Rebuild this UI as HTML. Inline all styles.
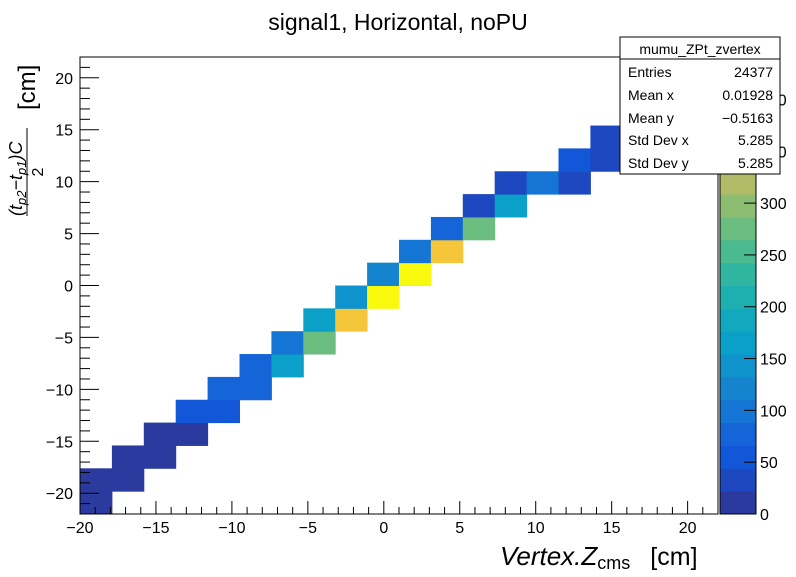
<!DOCTYPE html>
<html><head><meta charset="utf-8"><style>
body{margin:0;background:#fff;}
svg text{font-family:"Liberation Sans",sans-serif;}
</style></head><body>
<svg id="c" width="796" height="572" xmlns="http://www.w3.org/2000/svg">
<rect width="796" height="572" fill="#fff"/>
<text x="398" y="30" font-size="23" text-anchor="middle">signal1, Horizontal, noPU</text>
<g id="cells"></g>
<rect x="80" y="57" width="638" height="457" fill="none" stroke="#000" stroke-width="1"/>
<g id="axes"></g>
<g id="pal"></g>
<text x="500" y="565" font-size="26" font-style="italic">Vertex.Z<tspan font-style="normal" font-size="18" dy="4">cms</tspan><tspan font-style="normal" dy="-4" dx="20" font-size="25">[cm]</tspan></text>
<g transform="translate(25,286) rotate(-90)">
<text x="70" y="-3" font-size="18" font-style="italic">(t<tspan font-size="13" dy="4">p2</tspan><tspan dy="-4">−t</tspan><tspan font-size="13" dy="4">p1</tspan><tspan dy="-4">)C</tspan></text>
<line x1="70" y1="2" x2="158" y2="2" stroke="#000" stroke-width="1"/>
<text x="114" y="18" font-size="16" text-anchor="middle">2</text>
<text x="176" y="10" font-size="24">[cm]</text>
</g>
<g>
<rect x="620" y="37" width="160" height="137" fill="#fff" stroke="#000"/>
<line x1="620" y1="59" x2="780" y2="59" stroke="#000"/>
<text x="700" y="54" font-size="14" text-anchor="middle">mumu_ZPt_zvertex</text>
<text x="628" y="77" font-size="14">Entries</text><text x="773" y="77" font-size="14" text-anchor="end">24377</text>
<text x="628" y="100" font-size="14">Mean x</text><text x="773" y="100" font-size="14" text-anchor="end">0.01928</text>
<text x="628" y="123" font-size="14">Mean y</text><text x="773" y="123" font-size="14" text-anchor="end">−0.5163</text>
<text x="628" y="145" font-size="14">Std Dev x</text><text x="773" y="145" font-size="14" text-anchor="end">5.285</text>
<text x="628" y="168" font-size="14">Std Dev y</text><text x="773" y="168" font-size="14" text-anchor="end">5.285</text>
</g>
</svg>
<script>
const xBins=[0,0,1,1,2,2,3,3,4,4,5,5,6,6,7,7,8,8,9,9,10,10,11,11,12,12,13,13,14,15,15,16,16,17];
const yBins=[0,1,1,2,2,3,3,4,4,5,5,6,6,7,7,8,8,9,9,10,10,11,11,12,12,13,13,14,14,14,15,15,16,16];
const counts=[15,15,18,18,20,20,22,60,60,80,80,85,175,110,285,170,380,140,430,130,430,110,380,70,265,25,165,30,110,30,55,30,30,30];
const xTicks=[-20,-15,-10,-5,0,5,10,15,20];
const yTicks=[-20,-15,-10,-5,0,5,10,15,20];
const zTicks=[0,50,100,150,200,250,300,350,400];
const palette=["#2a3a9e","#1d48c0","#1257d8","#1565d8","#1575d4","#1484cf","#0f93cc","#0aa0c8","#12a8be","#1eb0b0","#30b6a0","#4cba90","#6bbd80","#8dbd72","#b0bc68","#d0b85c","#e8bb4a","#f5c53a","#f8dc24","#f9f90e"];
const X0=80,X1=718,Y0=514,Y1=57,xmin=-20,xmax=22,ymin=-22,ymax=22,zmax=441,nb=20;
const sx=v=>X0+(v-xmin)/(xmax-xmin)*(X1-X0);
const sy=v=>Y0-(v-ymin)/(ymax-ymin)*(Y0-Y1);
const NS="http://www.w3.org/2000/svg";
function mk(tag,at,parent){const e=document.createElementNS(NS,tag);for(const k in at)e.setAttribute(k,at[k]);parent.appendChild(e);return e;}
const bw=(xmax-xmin)/nb,bh=(ymax-ymin)/nb;
const cg=document.getElementById('cells');
counts.forEach((c,i)=>{
 const xa=xmin+xBins[i]*bw,ya=ymin+yBins[i]*bh;
 const ci=Math.min(19,Math.floor(c/zmax*20));
 const r=mk('rect',{x:sx(xa),y:sy(ya+bh),width:sx(xa+bw)-sx(xa)+0.5,height:sy(ya)-sy(ya+bh)+0.5,fill:palette[ci]},cg);
 
 
});
const ag=document.getElementById('axes');
for(let v=-20;v<=22;v++){const maj=v%5===0;mk('line',{x1:sx(v),x2:sx(v),y1:Y0,y2:Y0-(maj?13:7),stroke:'#000'},ag);}
for(let v=-22;v<=22;v++){const maj=v%5===0;mk('line',{x1:X0,x2:X0+(maj?19:10),y1:sy(v),y2:sy(v),stroke:'#000'},ag);}
xTicks.forEach(v=>{const t=mk('text',{x:sx(v),y:533,'font-size':16,'text-anchor':'middle'},ag);t.textContent=v<0?'−'+(-v):v;
 
 });
yTicks.forEach(v=>{const t=mk('text',{x:73,y:sy(v)+6,'font-size':16,'text-anchor':'end'},ag);t.textContent=v<0?'−'+(-v):v;
 
 });
const pg=document.getElementById('pal');
const PX=720,PW=36,pz=v=>Y0-v/zmax*(Y0-Y1);
palette.forEach((col,i)=>{mk('rect',{x:PX,y:pz((i+1)*zmax/20),width:PW,height:pz(i*zmax/20)-pz((i+1)*zmax/20)+0.5,fill:col},pg);});
mk('rect',{x:PX,y:Y1,width:PW,height:Y0-Y1,fill:'none',stroke:'#000'},pg);
zTicks.forEach(v=>{mk('line',{x1:PX+PW-12,x2:PX+PW,y1:pz(v),y2:pz(v),stroke:'#000'},pg);
 const t=mk('text',{x:PX+PW+4,y:pz(v)+6,'font-size':16},pg);t.textContent=v;
 
 });
</script>
</body></html>
